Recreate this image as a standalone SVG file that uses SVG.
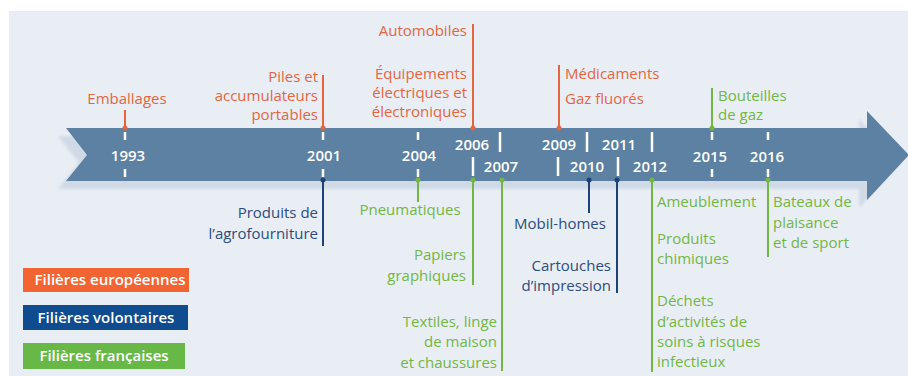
<svg xmlns="http://www.w3.org/2000/svg" width="908" height="376" viewBox="0 0 908 376">
<defs>
<style>
text{font-family:"Open Sans","Liberation Sans",sans-serif;font-size:15px}
.or{fill:#e4663e}.bl{fill:#2c4d7e}.gr{fill:#72b644}
.yr{fill:#ffffff;font-weight:600;text-anchor:middle}
.lg{fill:#ffffff;font-weight:600;text-anchor:middle}
.e{text-anchor:end}.m{text-anchor:middle}
.lo{stroke:#e4663e;stroke-width:2}.lb{stroke:#1c4276;stroke-width:2}.lgn{stroke:#72b644;stroke-width:2}
.tk{stroke:#ffffff;stroke-width:2.5}
.do{fill:#e4663e}.db{fill:#1c4276}.dg{fill:#72b644}
</style>
<filter id="blur" x="-5%" y="-20%" width="110%" height="140%"><feGaussianBlur stdDeviation="1.5"/></filter>
</defs>
<rect x="0" y="0" width="908" height="376" fill="#ffffff"/>
<rect x="9" y="11" width="899" height="365" fill="#e9eef5"/>
<g id="band">
<polygon points="58,136 859,136 859,119 900,164 859,208 859,189 58,189 79,163" fill="#d0dae6" filter="url(#blur)"/>
<polygon points="66,128 867,128 867,111 909,155 867,200 867,181 66,181 87,155" fill="#5c81a2"/>
</g>
<g id="connectors">
<line class="lo" x1="125" y1="110" x2="125" y2="128"/>
<line class="lo" x1="323" y1="75" x2="323" y2="128"/>
<line class="lo" x1="473" y1="24" x2="473" y2="128"/>
<line class="lo" x1="559" y1="65" x2="559" y2="128"/>
<line class="lgn" x1="712" y1="88" x2="712" y2="128"/>
<line class="lb" x1="323" y1="180" x2="323" y2="246"/>
<line class="lgn" x1="418" y1="180" x2="418" y2="202"/>
<line class="lgn" x1="473" y1="180" x2="473" y2="285"/>
<line class="lgn" x1="502" y1="180" x2="502" y2="371"/>
<line class="lb" x1="589" y1="180" x2="589" y2="213"/>
<line class="lb" x1="617" y1="180" x2="617" y2="293"/>
<line class="lgn" x1="652" y1="180" x2="652" y2="372"/>
<line class="lgn" x1="768" y1="180" x2="768" y2="257"/>
<circle class="do" cx="125" cy="128" r="2.5"/>
<circle class="do" cx="323" cy="128" r="2.5"/>
<circle class="do" cx="473" cy="128" r="2.5"/>
<circle class="do" cx="559" cy="128" r="2.5"/>
<circle class="dg" cx="712" cy="128" r="2.5"/>
<circle class="db" cx="323" cy="180" r="2.5"/>
<circle class="dg" cx="418" cy="180" r="2.5"/>
<circle class="dg" cx="473" cy="180" r="2.5"/>
<circle class="dg" cx="502" cy="180" r="2.5"/>
<circle class="db" cx="589" cy="180" r="2.5"/>
<circle class="db" cx="617" cy="180" r="2.5"/>
<circle class="dg" cx="652" cy="180" r="2.5"/>
<circle class="dg" cx="768" cy="180" r="2.5"/>
</g>
<g id="ticks">
<line class="tk" x1="125" y1="132" x2="125" y2="140"/><line class="tk" x1="125" y1="169" x2="125" y2="177"/>
<line class="tk" x1="323" y1="132" x2="323" y2="140"/><line class="tk" x1="323" y1="169" x2="323" y2="177"/>
<line class="tk" x1="418" y1="132" x2="418" y2="140"/><line class="tk" x1="418" y1="169" x2="418" y2="177"/>
<line class="tk" x1="712" y1="132" x2="712" y2="140"/><line class="tk" x1="712" y1="169" x2="712" y2="177"/>
<line class="tk" x1="768" y1="132" x2="768" y2="140"/><line class="tk" x1="768" y1="169" x2="768" y2="177"/>
<line class="tk" x1="473" y1="157" x2="473" y2="176"/>
<line class="tk" x1="500" y1="132" x2="500" y2="152"/>
<line class="tk" x1="558" y1="157" x2="558" y2="176"/>
<line class="tk" x1="587" y1="132" x2="587" y2="152"/>
<line class="tk" x1="618" y1="157" x2="618" y2="176"/>
<line class="tk" x1="652" y1="132" x2="652" y2="152"/>
</g>
<g id="years">
<text class="yr" x="128" y="161">1993</text>
<text class="yr" x="324" y="161">2001</text>
<text class="yr" x="419" y="161">2004</text>
<text class="yr" x="472" y="150">2006</text>
<text class="yr" x="501" y="172">2007</text>
<text class="yr" x="559" y="150">2009</text>
<text class="yr" x="587" y="172">2010</text>
<text class="yr" x="619" y="150">2011</text>
<text class="yr" x="650" y="172">2012</text>
<text class="yr" x="710" y="162">2015</text>
<text class="yr" x="767" y="162">2016</text>
</g>
<g id="n-emballages"><text class="or m" x="127" y="104">Emballages</text></g>
<g id="n-piles"><text class="or e" x="318" y="82">Piles et</text><text class="or e" x="318" y="101">accumulateurs</text><text class="or e" x="318" y="120">portables</text></g>
<g id="n-automobiles"><text class="or e" x="467" y="36">Automobiles</text></g>
<g id="n-equipements"><text class="or e" x="467" y="79">Équipements</text><text class="or e" x="467" y="98">électriques et</text><text class="or e" x="467" y="117">électroniques</text></g>
<g id="n-medicaments"><text class="or" x="565" y="79">Médicaments</text></g>
<g id="n-gaz"><text class="or" x="565" y="104">Gaz fluorés</text></g>
<g id="n-bouteilles"><text class="gr" x="718" y="101">Bouteilles</text><text class="gr" x="718" y="120">de gaz</text></g>
<g id="n-agro"><text class="bl e" x="318" y="218">Produits de</text><text class="bl e" x="318" y="239">l’agrofourniture</text></g>
<g id="n-pneu"><text class="gr m" x="410" y="215">Pneumatiques</text></g>
<g id="n-papiers"><text class="gr e" x="466" y="260">Papiers</text><text class="gr e" x="466" y="281">graphiques</text></g>
<g id="n-textiles"><text class="gr e" x="497" y="327">Textiles, linge</text><text class="gr e" x="497" y="347">de maison</text><text class="gr e" x="497" y="368">et chaussures</text></g>
<g id="n-mobil"><text class="bl m" x="560" y="229">Mobil-homes</text></g>
<g id="n-cartouches"><text class="bl e" x="611" y="271">Cartouches</text><text class="bl e" x="611" y="291">d’impression</text></g>
<g id="n-ameublement"><text class="gr" x="657" y="207">Ameublement</text></g>
<g id="n-chimiques"><text class="gr" x="657" y="244">Produits</text><text class="gr" x="657" y="264">chimiques</text></g>
<g id="n-dechets"><text class="gr" x="657" y="306">Déchets</text><text class="gr" x="657" y="327">d’activités de</text><text class="gr" x="657" y="347">soins à risques</text><text class="gr" x="657" y="367">infectieux</text></g>
<g id="n-bateaux"><text class="gr" x="773" y="207">Bateaux de</text><text class="gr" x="773" y="228">plaisance</text><text class="gr" x="773" y="248">et de sport</text></g>
<g id="legend">
<rect x="23" y="268" width="166" height="24" fill="#f26532"/>
<text class="lg" x="110" y="285">Filières européennes</text>
<rect x="23" y="305" width="165" height="25" fill="#0e4c8f"/>
<text class="lg" x="106" y="323">Filières volontaires</text>
<rect x="23" y="343" width="162" height="26" fill="#68b848"/>
<text class="lg" x="104" y="361">Filières françaises</text>
</g>
</svg>
